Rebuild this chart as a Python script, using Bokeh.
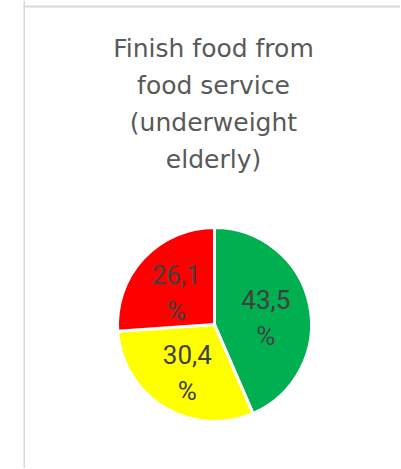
import numpy as np
from bokeh.plotting import figure
from bokeh.models import Range1d, Span, ColumnDataSource, Label
from bokeh.core.properties import value
from bokeh.embed import file_html
from bokeh.resources import INLINE

# ---- data ----
title_lines = ["Finish food from", "food service", "(underweight", "elderly)"]
categories = ["Finish all", "Finish some", "Do not finish"]
values = [43.5, 30.4, 26.1]
colors = ["#00B050", "#FFFF00", "#FF0000"]

# ---- layout (pixel-like data units) ----
W, H = 400, 468
LEFT = 23
FW, FH = W - LEFT, H
cx, cy, R = 191, 144, 97

p = figure(width=W, height=H, x_range=Range1d(0, FW), y_range=Range1d(0, FH),
           x_axis_type=None, y_axis_type=None,
           min_border_left=LEFT, min_border_right=0, min_border_top=0, min_border_bottom=0,
           output_backend="svg", toolbar_location=None)
p.grid.visible = False
p.outline_line_color = None
p.background_fill_color = "white"
p.border_fill_color = "white"

# chart border (top and left visible)
p.add_layout(Span(location=0.5, dimension="height", line_color="#d9d9d9", line_width=2))
p.add_layout(Span(location=FH - 6, dimension="width", line_color="#d9d9d9", line_width=2))

# ---- pie ----
vals = np.array(values, dtype=float)
frac = vals / vals.sum()
ends = np.pi / 2 - 2 * np.pi * np.cumsum(frac)
starts = np.concatenate([[np.pi / 2], ends[:-1]])
mids = (starts + ends) / 2
lr = 0.54 * R
src = ColumnDataSource(dict(
    cat=categories, start=starts, end=ends, color=colors,
    lx=cx + lr * np.cos(mids), ly=cy + lr * np.sin(mids) - 4,
    label=[f"{v:.1f}".replace(".", ",") + "\n%" for v in values],
))
p.wedge(x=cx, y=cy, radius=R, start_angle="start", end_angle="end", direction="clock",
        fill_color="color", line_color="white", line_width=3, source=src)
p.text(x="lx", y="ly", text="label", source=src, text_align="center", text_baseline="middle",
       text_font=value("Roboto"), text_font_size="26px", text_color="#404040",
       text_line_height=1.2)

# ---- title ----
for i, line in enumerate(title_lines):
    p.add_layout(Label(x=190, y=FH - 48 - i * 37, text=line, text_align="center",
                       text_baseline="alphabetic", text_font="DejaVu Sans",
                       text_font_size="25px", text_color="#595959"))

open("out.html", "w").write(file_html(p, INLINE))
